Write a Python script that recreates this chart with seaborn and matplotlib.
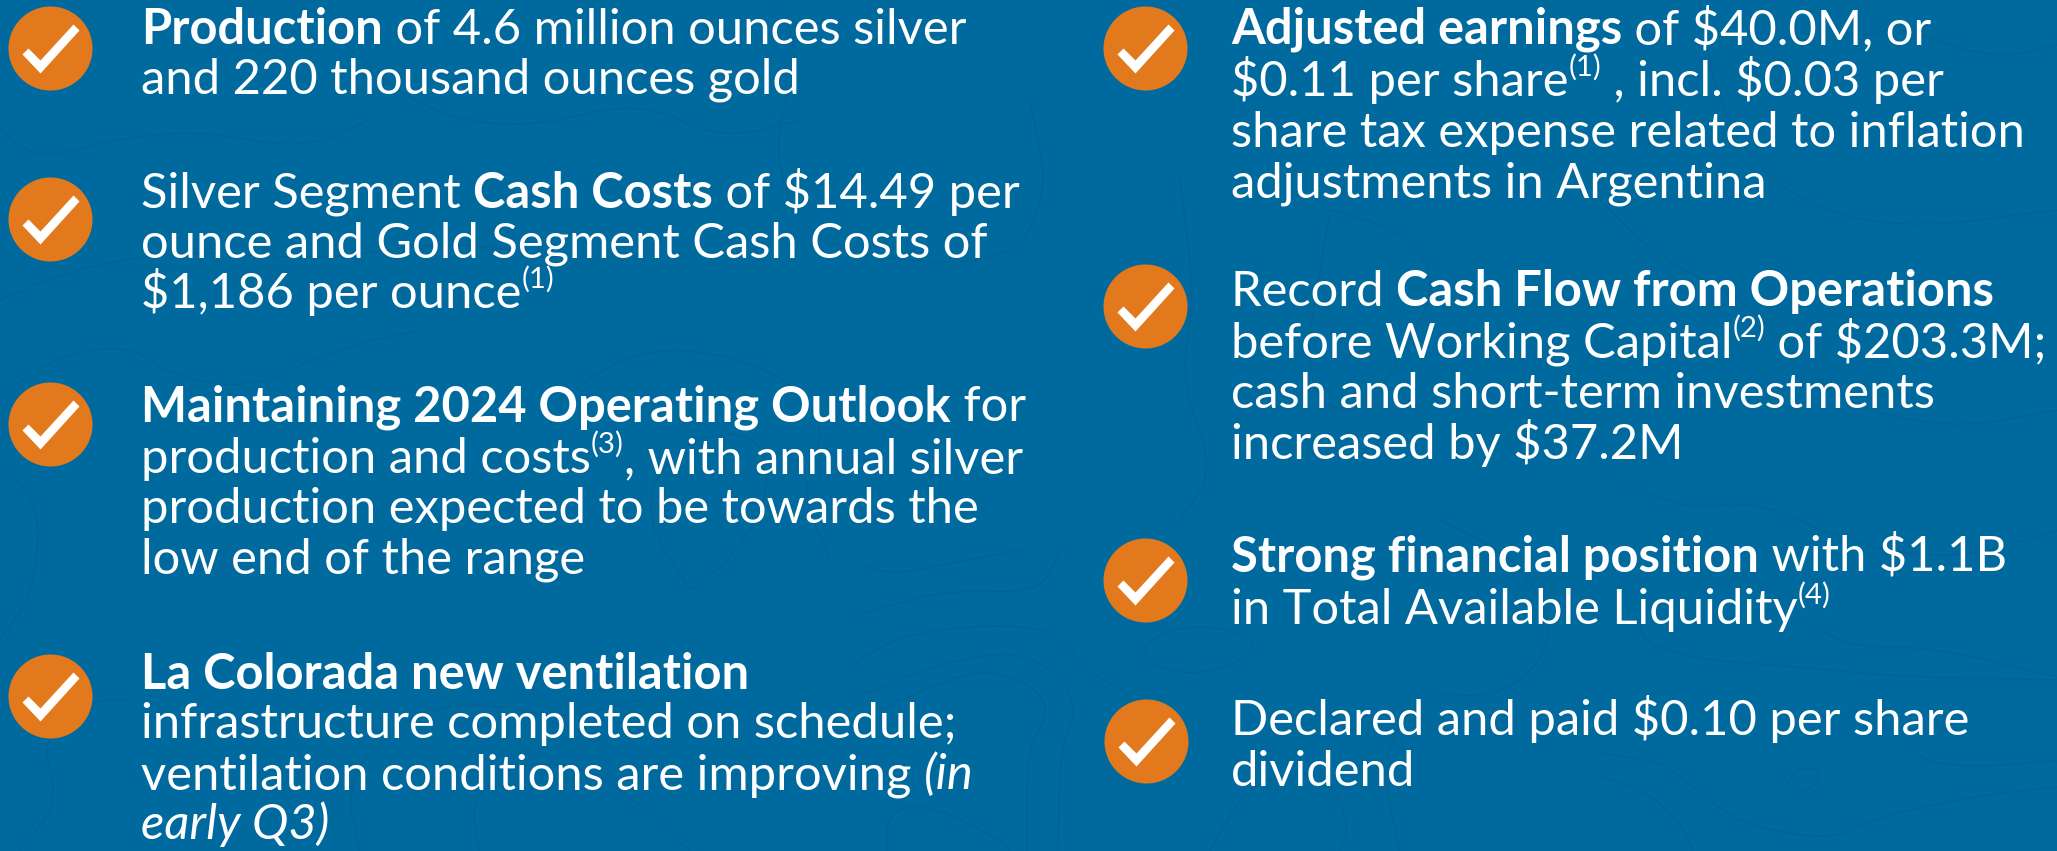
"""Highlights slide: two columns of check-marked statements on a contour background."""

import matplotlib

matplotlib.use("Agg")
import matplotlib.pyplot as plt
from matplotlib.font_manager import FontProperties
from matplotlib.path import Path
import numpy as np
import pandas as pd
import seaborn as sns

BACKGROUND = "#006A9E"
CONTOUR = "#05608F"
ORANGE = "#E2791C"
FONT = "Lato"
FONT_SIZE = 35.2

# badge centres in pixels
BADGE_X = [50, 50, 50, 50, 1145, 1145, 1145, 1146]
BADGE_Y = [48, 219, 424, 696, 48, 306, 580, 741]

# r = regular, b = bold, i = italic, s = superscript
LEFT_X = 141
LEFT_BASELINES = [44, 94, 208, 258, 308, 421, 473, 523, 574, 689, 738, 789, 839]
LEFT_LINES = [
    [("Production", "b"), (" of 4.6 million ounces silver", "r")],
    [("and 220 thousand ounces gold", "r")],
    [("Silver Segment ", "r"), ("Cash Costs", "b"), (" of $14.49 per", "r")],
    [("ounce and Gold Segment Cash Costs of", "r")],
    [("$1,186 per ounce", "r"), ("(1)", "s")],
    [("Maintaining 2024 Operating Outlook", "b"), (" for", "r")],
    [("production and costs", "r"), ("(3)", "s"), (", with annual silver", "r")],
    [("production expected to be towards the", "r")],
    [("low end of the range", "r")],
    [("La Colorada new ventilation", "b")],
    [("infrastructure completed on schedule;", "r")],
    [("ventilation conditions are improving ", "r"), ("(in", "i")],
    [("early Q3)", "i")],
]

RIGHT_X = 1231
RIGHT_BASELINES = [44, 96, 147, 198, 306, 357, 408, 459, 571, 624, 735, 786]
RIGHT_LINES = [
    [("Adjusted earnings", "b"), (" of $40.0M, or", "r")],
    [("$0.11 per share", "r"), ("(1)", "s"), (" , incl. $0.03 per", "r")],
    [("share tax expense related to inflation", "r")],
    [("adjustments in Argentina", "r")],
    [("Record ", "r"), ("Cash Flow from Operations", "b")],
    [("before Working Capital", "r"), ("(2)", "s"), (" of $203.3M;", "r")],
    [("cash and short-term investments", "r")],
    [("increased by $37.2M", "r")],
    [("Strong financial position", "b"), (" with $1.1B", "r")],
    [("in Total Available Liquidity", "r"), ("(4)", "s")],
    [("Declared and paid $0.10 per share", "r")],
    [("dividend", "r")],
]

# faint terrain lines traced by eye, pixel vertices
CONTOURS = [
    [(850, 667), (890, 640), (950, 628), (1010, 625), (1057, 633), (1090, 673), (1133, 697)],
    [(850, 700), (917, 673), (967, 657), (1023, 653), (1060, 677), (1077, 710), (1060, 747), (1058, 851)],
    [(850, 723), (917, 693), (973, 670), (1017, 677), (1043, 697), (1047, 717), (1027, 750), (1027, 851)],
    [(1143, 647), (1167, 630), (1210, 625), (1260, 640), (1235, 665), (1190, 675), (1150, 665), (1143, 647)],
    [(887, 851), (887, 815), (917, 803), (957, 817), (1000, 840), (1010, 851)],
    [(857, 557), (870, 570), (903, 573), (950, 563), (1023, 550)],
    [(850, 620), (883, 607), (950, 590), (1037, 593), (1057, 560), (1060, 550)],
    [(1640, 620), (1643, 643), (1700, 660), (1800, 667), (1900, 677), (2057, 680)],
    [(1817, 627), (1850, 647), (1933, 647), (2057, 677)],
    [(1787, 783), (1800, 767), (1825, 770), (1805, 795), (1787, 783)],
    [(1600, 753), (1667, 763), (1707, 800), (1750, 827), (1833, 840), (1867, 820), (1967, 797), (2057, 787)],
    [(1600, 777), (1650, 793), (1683, 827), (1693, 851)],
    [(1907, 743), (1927, 763), (1983, 767), (2057, 760)],
    [(0, 395), (60, 355), (130, 345), (170, 375), (250, 390), (330, 350), (420, 330)],
    [(0, 470), (40, 500), (35, 590), (0, 640)],
    [(20, 851), (60, 800), (40, 740), (90, 700), (130, 700)],
    [(360, 851), (345, 780), (400, 720), (470, 700), (560, 720), (640, 700)],
    [(480, 851), (470, 800), (520, 760), (600, 770), (690, 851)],
    [(560, 400), (640, 345), (760, 360), (830, 420), (800, 490), (830, 560)],
    [(690, 590), (640, 510), (680, 440), (760, 430), (770, 500), (730, 560), (690, 590)],
    [(1180, 180), (1195, 300), (1180, 380), (1215, 470), (1180, 520)],
    [(1330, 210), (1400, 230), (1440, 280), (1400, 360), (1360, 420), (1300, 390), (1330, 210)],
    [(1600, 470), (1680, 510), (1760, 500), (1850, 545), (1960, 560), (2057, 530)],
    [(1800, 0), (1850, 40), (1900, 25), (1990, 60), (2057, 45)],
    [(300, 0), (340, 40), (420, 110), (520, 130), (640, 100), (720, 140), (800, 120)],
    [(780, 0), (800, 60), (770, 150), (810, 250), (1000, 270), (1050, 200), (1030, 100)],
    [(1440, 520), (1520, 560), (1560, 640), (1500, 700), (1420, 690), (1380, 760), (1400, 851)],
    [(1210, 851), (1250, 780), (1330, 770), (1350, 830), (1340, 851)],
    [(0, 130), (40, 160), (110, 140), (200, 130), (300, 150), (370, 120)],
    [(0, 300), (70, 270), (180, 250), (330, 260), (450, 240), (560, 260)],
    [(1700, 0), (1720, 120), (1790, 200), (1900, 230), (2057, 210)],
    [(1600, 200), (1660, 260), (1750, 300), (1830, 400), (1950, 430), (2057, 410)],
]


def smooth(points, rounds=3):
    """Round off a hand-traced polyline by corner cutting."""
    pts = np.array(points, dtype=float)
    for _ in range(rounds):
        q = 0.75 * pts[:-1] + 0.25 * pts[1:]
        r = 0.25 * pts[:-1] + 0.75 * pts[1:]
        cut = np.empty((q.shape[0] * 2, 2))
        cut[0::2] = q
        cut[1::2] = r
        pts = np.vstack([pts[0], cut, pts[-1]])
    return pts


def draw_lines(ax, renderer, x_start, baselines, lines):
    """Lay out mixed-style runs one after the other on each baseline."""
    for baseline, runs in zip(baselines, lines):
        x = x_start
        for text, style in runs:
            size = FONT_SIZE * 0.6 if style == "s" else FONT_SIZE
            props = FontProperties(
                family=FONT,
                size=size,
                weight="bold" if style == "b" else "normal",
                style="italic" if style == "i" else "normal",
            )
            y = baseline - 20 if style == "s" else baseline
            ax.text(x, y, text, color="white", fontproperties=props, va="baseline", ha="left")
            # pad with dots so spaces at the ends of a run are counted
            full, _, _ = renderer.get_text_width_height_descent("." + text + ".", props, False)
            dots, _, _ = renderer.get_text_width_height_descent("..", props, False)
            x += full - dots


sns.set_theme(style="white")
plt.rcParams["font.family"] = [FONT, "DejaVu Sans"]

fig = plt.figure(figsize=(20.57, 8.51), dpi=100, facecolor=BACKGROUND)
ax = fig.add_axes([0, 0, 1, 1], facecolor=BACKGROUND)

for contour in CONTOURS:
    traced = smooth(contour)
    ax.plot(traced[:, 0], traced[:, 1], color=CONTOUR, lw=1.0, alpha=0.7, zorder=1)

badges = pd.DataFrame({"x": BADGE_X, "y": BADGE_Y})
sns.scatterplot(data=badges, x="x", y="y", ax=ax, color=ORANGE, s=3660, linewidth=0, zorder=2)

check = Path(
    [(29, 18), (23, 24), (-10, -12), (-22, 0), (-28, -6), (-10, -25), (29, 18)],
    closed=True,
)
sns.scatterplot(data=badges, x="x", y="y", ax=ax, color="white", marker=check, s=1745, linewidth=0, zorder=3)

ax.set_xlim(0, 2057)
ax.set_ylim(851, 0)
ax.axis("off")

renderer = fig.canvas.get_renderer()
draw_lines(ax, renderer, LEFT_X, LEFT_BASELINES, LEFT_LINES)
draw_lines(ax, renderer, RIGHT_X, RIGHT_BASELINES, RIGHT_LINES)

fig.savefig("out.png", dpi=100, facecolor=BACKGROUND)
plt.close(fig)
